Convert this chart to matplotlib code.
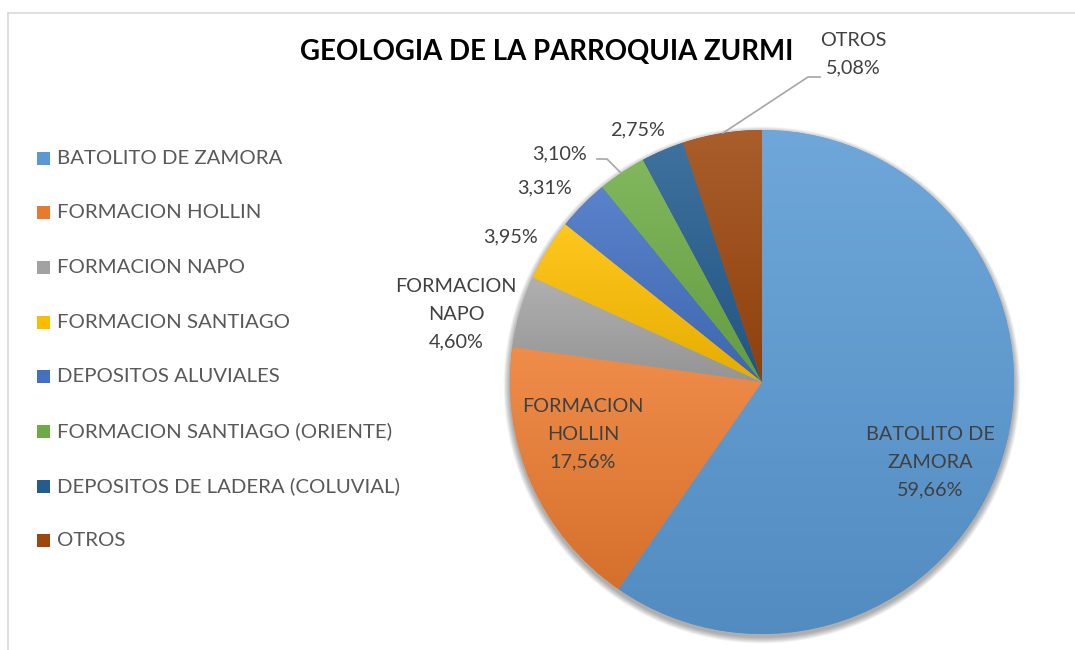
import matplotlib
matplotlib.use("Agg")
import matplotlib.pyplot as plt
import matplotlib.patches as patches
import numpy as np
from matplotlib.colors import to_rgb

# data
categories = ['BATOLITO DE ZAMORA', 'FORMACION HOLLIN', 'FORMACION NAPO',
              'FORMACION SANTIAGO', 'DEPOSITOS ALUVIALES',
              'FORMACION SANTIAGO (ORIENTE)', 'DEPOSITOS DE LADERA (COLUVIAL)',
              'OTROS']
values = [59.66, 17.56, 4.60, 3.95, 3.31, 3.10, 2.75, 5.08]
title = 'GEOLOGIA DE LA PARROQUIA ZURMI'

colors = ['#5B9BD5', '#ED7D31', '#A5A5A5', '#FFC000',
          '#4472C4', '#70AD47', '#255E91', '#9E480E']

FONT = 'Lato'
W, H = 1075, 650


def Y(y):
    # pixel row (from top) -> data y
    return H - y


def shade(c, f):
    c = np.array(to_rgb(c))
    if f >= 0:
        return c + (1 - c) * f
    return c * (1 + f)


fig = plt.figure(figsize=(W / 100, H / 100), dpi=100)
ax = fig.add_axes([0, 0, 1, 1])

cx, cy, r = 762, Y(382), 252

# soft shadow under the pie
for i in range(1, 10):
    ax.add_patch(patches.Circle((cx, cy - 3), r + i * 0.7, facecolor='black',
                                alpha=0.04, lw=0, zorder=0))

wedges, _ = ax.pie(values, colors=colors, startangle=90, counterclock=False,
                   center=(cx, cy), radius=r,
                   wedgeprops=dict(linewidth=0, zorder=2))

# vertical gradient per slice (light top, darker bottom)
for w, c in zip(wedges, colors):
    v = w.get_path().vertices
    x0, x1 = v[:, 0].min(), v[:, 0].max()
    y0, y1 = v[:, 1].min(), v[:, 1].max()
    t = np.linspace(0, 1, 256)[:, None]
    grad = shade(c, 0.12)[None, :] * (1 - t) + shade(c, -0.10)[None, :] * t
    im = ax.imshow(grad[:, None, :], extent=[x0, x1, y0, y1], origin='upper',
                   aspect='auto', zorder=3, interpolation='bilinear')
    im.set_clip_path(w)

# frame
ax.plot([8, 8], [Y(13), 0], color='#D9D9D9', lw=1.2, zorder=1)
ax.plot([8, W], [Y(13), Y(13)], color='#D9D9D9', lw=1.2, zorder=1)

# title
ax.text(547, Y(52), title, ha='center', va='center', fontsize=19.9,
        fontweight='bold', family=FONT, color='black', zorder=5)

# legend
leg_y0, leg_dy = 158, 54.7
for i, (lab, c) in enumerate(zip(categories, colors)):
    yy = leg_y0 + i * leg_dy
    ax.add_patch(patches.Rectangle((37, Y(yy) - 6.5), 13, 13,
                                   facecolor=shade(c, -0.02), lw=0, zorder=5))
    ax.text(57, Y(yy), lab, ha='left', va='center', fontsize=14.7,
            family=FONT, color='#595959', zorder=5)

# data labels
lab_col = '#404040'
pct = [f'{v:.2f}%'.replace('.', ',') for v in values]
data_labels = [
    ('BATOLITO DE\nZAMORA\n' + pct[0], 930, 462),
    ('FORMACION\nHOLLIN\n' + pct[1], 583, 434),
    ('FORMACION\nNAPO\n' + pct[2], 456, 314),
    (pct[3], 511, 237),
    (pct[4], 545, 188),
    (pct[5], 560, 154),
    (pct[6], 637, 130),
    ('OTROS\n' + pct[7], 853, 54),
]
for txt, x, y in data_labels:
    ax.text(x, Y(y), txt, ha='center', va='center', fontsize=14.3,
            family=FONT, color=lab_col, linespacing=1.78, zorder=6)

# leader lines
ax.plot([597, 607, 621], [Y(159), Y(159), Y(173)], color='#A6A6A6', lw=1.2, zorder=6)
ax.plot([723, 808, 820], [Y(133), Y(77), Y(77)], color='#A6A6A6', lw=1.2, zorder=6)

ax.set_xlim(0, W)
ax.set_ylim(0, H)
ax.set_aspect('equal')
ax.axis('off')

fig.savefig('out.png', dpi=100, facecolor='white')
